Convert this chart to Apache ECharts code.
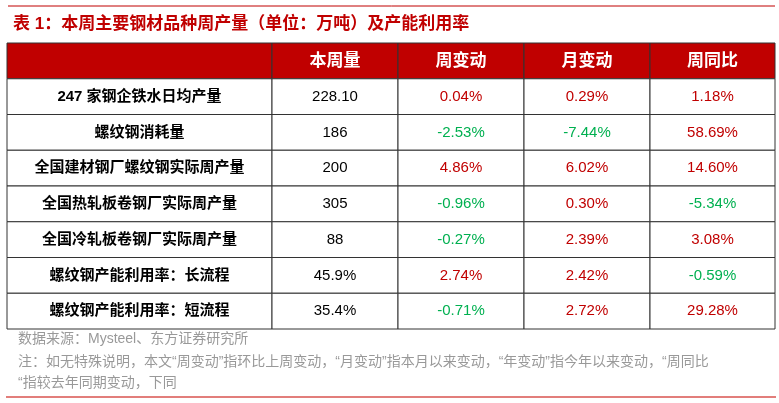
<!DOCTYPE html>
<html><head><meta charset="utf-8">
<script src="https://cdn.jsdelivr.net/npm/echarts@6/dist/echarts.min.js"></script>
<style>html,body{margin:0;padding:0;background:#fff}#chart{width:779px;height:403px}</style>
</head><body><div id="chart"></div>
<script>
var headers = ['', '本周量', '周变动', '月变动', '周同比'];
var items = ['247 家钢企铁水日均产量', '螺纹钢消耗量', '全国建材钢厂螺纹钢实际周产量', '全国热轧板卷钢厂实际周产量',
    '全国冷轧板卷钢厂实际周产量', '螺纹钢产能利用率：长流程', '螺纹钢产能利用率：短流程'];
var weekly = ['228.10', '186', '200', '305', '88', '45.9%', '35.4%'];
var weekChg = ['0.04%', '-2.53%', '4.86%', '-0.96%', '-0.27%', '2.74%', '-0.71%'];
var monthChg = ['0.29%', '-7.44%', '6.02%', '0.30%', '2.39%', '2.42%', '2.72%'];
var yoy = ['1.18%', '58.69%', '14.60%', '-5.34%', '3.08%', '-0.59%', '29.28%'];

// column edges in px, layout only
var colEdges = [0, 265, 391, 517, 643, 768];
var RED = '#c00000', GREEN = '#00b050';
var FONT = 'Arial, "Liberation Sans", "Noto Sans CJK SC"';

function colorOf(v) { return v.charAt(0) === '-' ? GREEN : RED; }

var rows = ['h'].concat(items.map(function (_, i) { return 'r' + i; }));
var cells = [];
headers.forEach(function (h, c) { cells.push([c, 0, h, '#fff', 1]); });
items.forEach(function (name, i) {
    var r = i + 1;
    cells.push([0, r, name, '#000', 1]);
    cells.push([1, r, weekly[i], '#000', 0]);
    cells.push([2, r, weekChg[i], colorOf(weekChg[i]), 0]);
    cells.push([3, r, monthChg[i], colorOf(monthChg[i]), 0]);
    cells.push([4, r, yoy[i], colorOf(yoy[i]), 0]);
});

var note = '14px ' + FONT;
var chart = echarts.init(document.getElementById('chart'));
chart.setOption({
    animation: false,
    title: {
        text: '表 1：本周主要钢材品种周产量（单位：万吨）及产能利用率',
        left: 8, top: 11,
        textStyle: { color: RED, fontSize: 17, fontWeight: 'bold', fontFamily: FONT }
    },
    graphic: [
        { type: 'line', shape: { x1: 8, y1: 6, x2: 775, y2: 6 }, style: { stroke: RED, lineWidth: 1 } },
        { type: 'line', shape: { x1: 6, y1: 397, x2: 776, y2: 397 }, style: { stroke: '#d9534f', lineWidth: 1.5 } },
        { type: 'text', left: 18, top: 332, style: { text: '数据来源：Mysteel、东方证券研究所', fill: '#999', font: note } },
        { type: 'text', left: 18, top: 355, style: { text: '注：如无特殊说明，本文“周变动”指环比上周变动，“月变动”指本月以来变动，“年变动”指今年以来变动，“周同比', fill: '#999', font: note } },
        { type: 'text', left: 18, top: 376, style: { text: '“指较去年同期变动，下同', fill: '#999', font: note } }
    ],
    grid: { left: 7, right: 4, top: 43, bottom: 74 },
    xAxis: { type: 'value', min: 0, max: 768, show: false },
    yAxis: { type: 'category', data: rows, inverse: true, show: false },
    series: [{
        type: 'custom',
        data: cells,
        renderItem: function (params, api) {
            var c = api.value(0), r = api.value(1);
            var p0 = api.coord([colEdges[c], r]);
            var p1 = api.coord([colEdges[c + 1], r]);
            var h = api.size([0, 1])[1];
            var d = cells[params.dataIndex];
            var x = p0[0], y = p0[1] - h / 2, w = p1[0] - p0[0];
            return {
                type: 'group',
                children: [
                    { type: 'rect', shape: { x: x, y: y, width: w, height: h },
                      style: { fill: r === 0 ? RED : '#fff', stroke: '#333', lineWidth: 1 } },
                    { type: 'text', x: x + w / 2, y: y + h / 2,
                      style: { text: d[2], fill: d[3], align: 'center', verticalAlign: 'middle',
                               font: (d[4] ? 'bold ' : '') + (r === 0 ? '17px ' : '15px ') + FONT } }
                ]
            };
        }
    }]
});
</script></body></html>
